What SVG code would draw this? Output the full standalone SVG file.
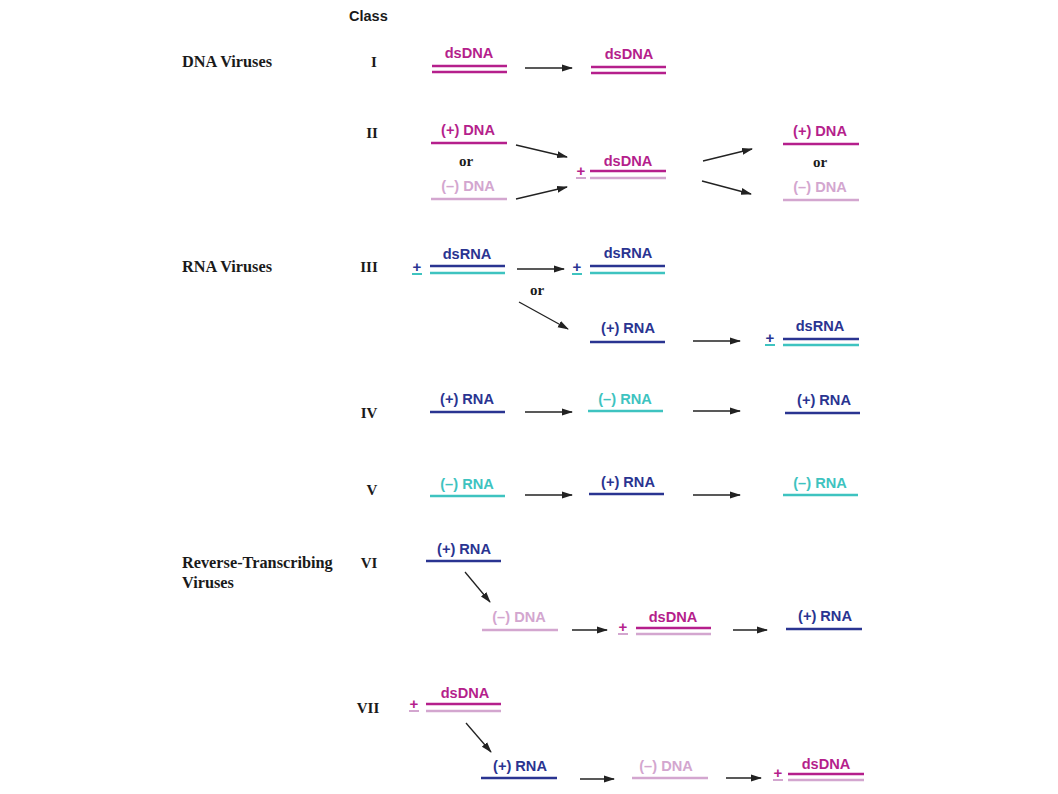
<svg xmlns="http://www.w3.org/2000/svg" width="1058" height="794" viewBox="0 0 1058 794">
  <style>
    .bg { fill: #ffffff; }
    .grp { font-family: "Liberation Serif", "Times New Roman", serif; font-weight: bold; font-size: 16.3px; fill: #1a1a1a; }
    .cls { font-family: "Liberation Serif", "Times New Roman", serif; font-weight: bold; font-size: 15px; fill: #1a1a1a; text-anchor: middle; }
    .head { font-family: "Liberation Sans", Arial, sans-serif; font-weight: bold; font-size: 14.5px; fill: #1a1a1a; }
    .or { font-family: "Liberation Serif", "Times New Roman", serif; font-weight: bold; font-size: 15px; fill: #1a1a1a; text-anchor: middle; }
    .lbl { font-family: "Liberation Sans", Arial, sans-serif; font-weight: bold; font-size: 14.6px; text-anchor: middle; }
    .pm { font-family: "Liberation Sans", Arial, sans-serif; font-weight: bold; font-size: 15px; text-anchor: middle; }
    .mag { fill: #b51f8c; }
    .pink { fill: #d3a6cf; }
    .blue { fill: #2a3491; }
    .teal { fill: #3ec3c0; }
    .s { stroke-width: 2.6; fill: none; }
    .sm { stroke: #b51f8c; }
    .sp { stroke: #d3a6cf; }
    .sb { stroke: #2a3491; }
    .st { stroke: #3ec3c0; }
    .u { stroke-width: 2; }
    .arr { stroke: #222222; stroke-width: 1.3; fill: none; marker-end: url(#head); }
  </style>
  <defs>
    <marker id="head" viewBox="0 0 11 8" refX="10" refY="4" markerWidth="11" markerHeight="8" markerUnits="userSpaceOnUse" orient="auto">
      <path d="M0,0.5 L11,4 L0,7.5 Z" fill="#222222"/>
    </marker>
  </defs>
  <rect class="bg" x="0" y="0" width="1058" height="794"/>

  <!-- group headings and class numerals -->
  <g id="headings">
    <text class="head" x="349" y="21">Class</text>
    <text class="grp" x="182" y="67">DNA Viruses</text>
    <text class="grp" x="182" y="272">RNA Viruses</text>
    <text class="grp" x="182" y="568">Reverse-Transcribing</text>
    <text class="grp" x="182" y="588">Viruses</text>
    <text class="cls" x="374" y="67">I</text>
    <text class="cls" x="372" y="138">II</text>
    <text class="cls" x="369" y="272">III</text>
    <text class="cls" x="369" y="418">IV</text>
    <text class="cls" x="372" y="495">V</text>
    <text class="cls" x="369" y="568">VI</text>
    <text class="cls" x="368" y="713">VII</text>
  </g>

  <!-- connectors -->
  <g id="connectors">
    <line class="arr" x1="525" y1="68" x2="572" y2="68"/>
    <line class="arr" x1="516" y1="145" x2="567" y2="157"/>
    <line class="arr" x1="516" y1="199" x2="567" y2="187"/>
    <line class="arr" x1="703" y1="161" x2="752" y2="149"/>
    <line class="arr" x1="702" y1="181" x2="751" y2="194"/>
    <line class="arr" x1="517" y1="269" x2="564" y2="269"/>
    <line class="arr" x1="519" y1="302" x2="568" y2="329"/>
    <line class="arr" x1="693" y1="341" x2="740" y2="341"/>
    <line class="arr" x1="525" y1="412" x2="572" y2="412"/>
    <line class="arr" x1="693" y1="411" x2="740" y2="411"/>
    <line class="arr" x1="525" y1="495" x2="572" y2="495"/>
    <line class="arr" x1="693" y1="495" x2="740" y2="495"/>
    <line class="arr" x1="465" y1="572" x2="490" y2="602"/>
    <line class="arr" x1="572" y1="630" x2="607" y2="630"/>
    <line class="arr" x1="733" y1="630" x2="767" y2="630"/>
    <line class="arr" x1="466" y1="723" x2="491" y2="752"/>
    <line class="arr" x1="580" y1="779" x2="614" y2="779"/>
    <line class="arr" x1="726" y1="778" x2="761" y2="778"/>
  </g>

  <!-- Class I -->
  <g id="c1-in">
    <text class="lbl mag" x="469" y="58">dsDNA</text>
    <line class="s sm" x1="432" y1="66" x2="507" y2="66"/>
    <line class="s sm" x1="432" y1="72" x2="507" y2="72"/>
  </g>
  <g id="c1-out">
    <text class="lbl mag" x="629" y="59">dsDNA</text>
    <line class="s sm" x1="591" y1="67" x2="666" y2="67"/>
    <line class="s sm" x1="591" y1="73" x2="666" y2="73"/>
  </g>

  <!-- Class II -->
  <g id="c2-plus">
    <text class="lbl mag" x="468" y="135">(+) DNA</text>
    <line class="s sm" x1="431" y1="143" x2="507" y2="143"/>
  </g>
  <text class="or" x="466" y="166">or</text>
  <g id="c2-minus">
    <text class="lbl pink" x="468" y="191">(–) DNA</text>
    <line class="s sp" x1="431" y1="199" x2="507" y2="199"/>
  </g>
  <g id="c2-ds">
    <text class="pm mag" x="581" y="176">+</text>
    <line class="sp u" x1="576" y1="178" x2="586" y2="178"/>
    <text class="lbl mag" x="628" y="166">dsDNA</text>
    <line class="s sm" x1="590" y1="171" x2="666" y2="171"/>
    <line class="s sp" x1="590" y1="178" x2="666" y2="178"/>
  </g>
  <g id="c2-out-plus">
    <text class="lbl mag" x="820" y="136">(+) DNA</text>
    <line class="s sm" x1="783" y1="144" x2="859" y2="144"/>
  </g>
  <text class="or" x="820" y="167">or</text>
  <g id="c2-out-minus">
    <text class="lbl pink" x="820" y="192">(–) DNA</text>
    <line class="s sp" x1="783" y1="200" x2="859" y2="200"/>
  </g>

  <!-- Class III -->
  <g id="c3-in">
    <text class="pm blue" x="417" y="272">+</text>
    <line class="st u" x1="412" y1="274" x2="422" y2="274"/>
    <text class="lbl blue" x="467" y="259">dsRNA</text>
    <line class="s sb" x1="430" y1="266" x2="505" y2="266"/>
    <line class="s st" x1="430" y1="273" x2="505" y2="273"/>
  </g>
  <g id="c3-out">
    <text class="pm blue" x="577" y="272">+</text>
    <line class="st u" x1="572" y1="274" x2="582" y2="274"/>
    <text class="lbl blue" x="628" y="258">dsRNA</text>
    <line class="s sb" x1="590" y1="266" x2="665" y2="266"/>
    <line class="s st" x1="590" y1="273" x2="665" y2="273"/>
  </g>
  <text class="or" x="537" y="295">or</text>
  <g id="c3-rna">
    <text class="lbl blue" x="628" y="333">(+) RNA</text>
    <line class="s sb" x1="590" y1="342" x2="665" y2="342"/>
  </g>
  <g id="c3-out2">
    <text class="pm blue" x="770" y="343">+</text>
    <line class="st u" x1="765" y1="345" x2="775" y2="345"/>
    <text class="lbl blue" x="820" y="331">dsRNA</text>
    <line class="s sb" x1="783" y1="339" x2="859" y2="339"/>
    <line class="s st" x1="783" y1="345" x2="859" y2="345"/>
  </g>

  <!-- Class IV -->
  <g id="c4-a">
    <text class="lbl blue" x="467" y="404">(+) RNA</text>
    <line class="s sb" x1="430" y1="412" x2="505" y2="412"/>
  </g>
  <g id="c4-b">
    <text class="lbl teal" x="625" y="404">(–) RNA</text>
    <line class="s st" x1="588" y1="411" x2="663" y2="411"/>
  </g>
  <g id="c4-c">
    <text class="lbl blue" x="824" y="405">(+) RNA</text>
    <line class="s sb" x1="785" y1="413" x2="860" y2="413"/>
  </g>

  <!-- Class V -->
  <g id="c5-a">
    <text class="lbl teal" x="467" y="489">(–) RNA</text>
    <line class="s st" x1="430" y1="496" x2="505" y2="496"/>
  </g>
  <g id="c5-b">
    <text class="lbl blue" x="628" y="487">(+) RNA</text>
    <line class="s sb" x1="589" y1="494" x2="664" y2="494"/>
  </g>
  <g id="c5-c">
    <text class="lbl teal" x="820" y="488">(–) RNA</text>
    <line class="s st" x1="783" y1="495" x2="858" y2="495"/>
  </g>

  <!-- Class VI -->
  <g id="c6-a">
    <text class="lbl blue" x="464" y="554">(+) RNA</text>
    <line class="s sb" x1="426" y1="561" x2="501" y2="561"/>
  </g>
  <g id="c6-b">
    <text class="lbl pink" x="519" y="622">(–) DNA</text>
    <line class="s sp" x1="482" y1="630" x2="558" y2="630"/>
  </g>
  <g id="c6-c">
    <text class="pm mag" x="623" y="632">+</text>
    <line class="sp u" x1="618" y1="634" x2="628" y2="634"/>
    <text class="lbl mag" x="673" y="622">dsDNA</text>
    <line class="s sm" x1="636" y1="628" x2="711" y2="628"/>
    <line class="s sp" x1="636" y1="634" x2="711" y2="634"/>
  </g>
  <g id="c6-d">
    <text class="lbl blue" x="825" y="621">(+) RNA</text>
    <line class="s sb" x1="786" y1="629" x2="862" y2="629"/>
  </g>

  <!-- Class VII -->
  <g id="c7-a">
    <text class="pm mag" x="414" y="709">+</text>
    <line class="sp u" x1="409" y1="711" x2="419" y2="711"/>
    <text class="lbl mag" x="465" y="698">dsDNA</text>
    <line class="s sm" x1="426" y1="704" x2="501" y2="704"/>
    <line class="s sp" x1="426" y1="711" x2="501" y2="711"/>
  </g>
  <g id="c7-b">
    <text class="lbl blue" x="520" y="771">(+) RNA</text>
    <line class="s sb" x1="481" y1="778" x2="557" y2="778"/>
  </g>
  <g id="c7-c">
    <text class="lbl pink" x="666" y="771">(–) DNA</text>
    <line class="s sp" x1="632" y1="778" x2="708" y2="778"/>
  </g>
  <g id="c7-d">
    <text class="pm mag" x="778" y="778">+</text>
    <line class="sp u" x1="773" y1="780" x2="783" y2="780"/>
    <text class="lbl mag" x="826" y="769">dsDNA</text>
    <line class="s sm" x1="788" y1="774" x2="864" y2="774"/>
    <line class="s sp" x1="788" y1="780" x2="864" y2="780"/>
  </g>
</svg>
